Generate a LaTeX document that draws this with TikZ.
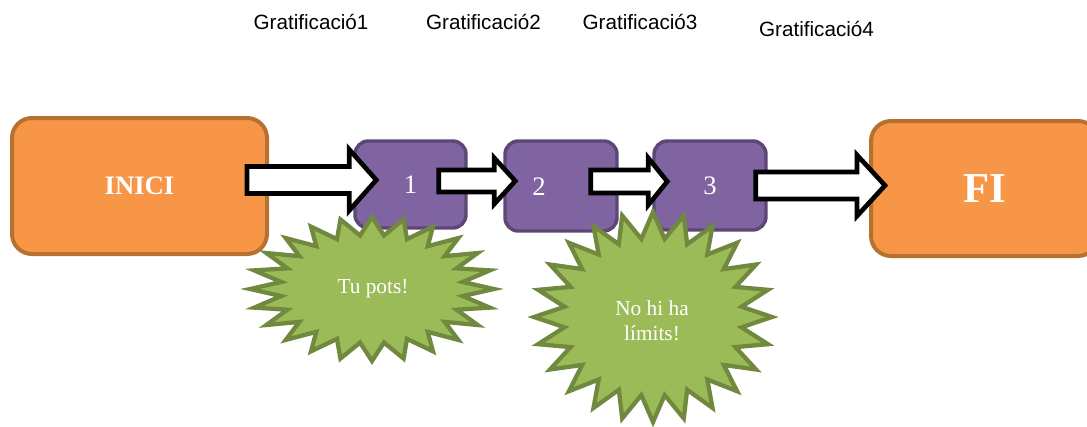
\documentclass[tikz,border=0pt]{standalone}
\usepackage{fontspec}
\setmainfont{Liberation Serif}
\newfontfamily\gratfont{Liberation Sans}
\usetikzlibrary{calc}

% one screen pixel
\def\px{0.75pt}

\definecolor{orangefill}{HTML}{F79646}
\definecolor{orangeline}{HTML}{B6702F}
\definecolor{purplefill}{HTML}{8064A2}
\definecolor{purpleline}{HTML}{5C4776}
\definecolor{greenfill}{HTML}{9BBB59}
\definecolor{greenline}{HTML}{71893F}

\tikzset{
  endbox/.style={draw=orangeline, fill=orangefill, line width=3pt,
    rounded corners=15pt, text=white},
  stepbox/.style={draw=purpleline, fill=purplefill, line width=2.6pt,
    rounded corners=10pt, minimum width=112*\px, minimum height=89*\px,
    text=white, font=\fontsize{20}{24}\selectfont},
  steptext/.style={text=white, font=\fontsize{20}{24}\selectfont},
  burst/.style={draw=greenline, fill=greenfill, line width=3.2pt},
  bursttext/.style={text=white, align=center, font=\fontsize{16}{18.5}\selectfont},
  gratlabel/.style={anchor=base, font=\gratfont\fontsize{15.5}{18}\selectfont},
  % white block arrow: shaft half width, head half width, head length (px)
  fat arrow/.style n args={3}{draw=black, fill=white, line width=3.5pt,
    to path={let \p1=(\tikztostart), \p2=(\tikztotarget) in
      (\x1,\y1+#1*\px) -- (\x2-#3*\px,\y1+#1*\px) -- (\x2-#3*\px,\y1+#2*\px)
      -- (\x2,\y1) -- (\x2-#3*\px,\y1-#2*\px) -- (\x2-#3*\px,\y1-#1*\px)
      -- (\x1,\y1-#1*\px) -- cycle}},
}

% 24-point star: centre, x radius, y radius
\newcommand{\starburst}[3]{%
  \draw[burst, shift={(#1)}] (#2,0)
    \foreach \k [evaluate=\k as \rx using {#2*(1-0.25*mod(\k,2))},
                 evaluate=\k as \ry using {#3*(1-0.25*mod(\k,2))}] in {1,...,47}
      { -- ({\rx*cos(\k*7.5)},{\ry*sin(\k*7.5)}) } -- cycle;}

\begin{document}
\begin{tikzpicture}[x=\px, y=-\px]
\useasboundingbox (0,0) rectangle (1087,426);

% Start and end
\node[endbox, minimum width=255*\px, minimum height=136*\px,
  font=\bfseries\fontsize{20}{24}\selectfont] (inici) at (139.5,186) {INICI};
\node[endbox, minimum width=227*\px, minimum height=135*\px,
  font=\bfseries\fontsize{32}{38}\selectfont] (fi) at (984.5,188.5) {FI};

% Steps
\node[stepbox, minimum width=111*\px, minimum height=87*\px] (n1) at (410.5,184.5) {1};
\node[stepbox, minimum height=90*\px] (n2) at (561,186) {};
\node[steptext] (two) at ($(n2.center)+(-22,1)$) {2};
\node[stepbox] (n3) at (710,185.5) {3};

% Arrows
\draw[fat arrow={13.5}{30.5}{27}] ($(inici.east)+(-22,-6)$) to ($(n1.west)+(23,-4.5)$);
\draw[fat arrow={11}{23}{21}] ($(n1.east)+(-29,-3.5)$) to ($(n2.west)+(12,-5)$);
\draw[fat arrow={11.5}{23.5}{19}] ($(n2.east)+(-28,-4.5)$) to ($(n3.west)+(15,-4)$);
\draw[fat arrow={13.5}{30.5}{28}] ($(n3.east)+(-12,0)$) to ($(fi.west)+(16,-3)$);

% Bursts
\starburst{372,289}{122}{72}
\node[bursttext] (pots) at (373,289) {Tu pots!};
\starburst{653,317}{119}{105}
\node[bursttext] (limits) at (652,321) {No hi ha\\límits!};

% Labels
\node[gratlabel] (g1) at (311,29) {Gratificació1};
\node[gratlabel] (g2) at (483.5,29) {Gratificació2};
\node[gratlabel] (g3) at (640,29) {Gratificació3};
\node[gratlabel] (g4) at (816.5,36) {Gratificació4};

\end{tikzpicture}
\end{document}
